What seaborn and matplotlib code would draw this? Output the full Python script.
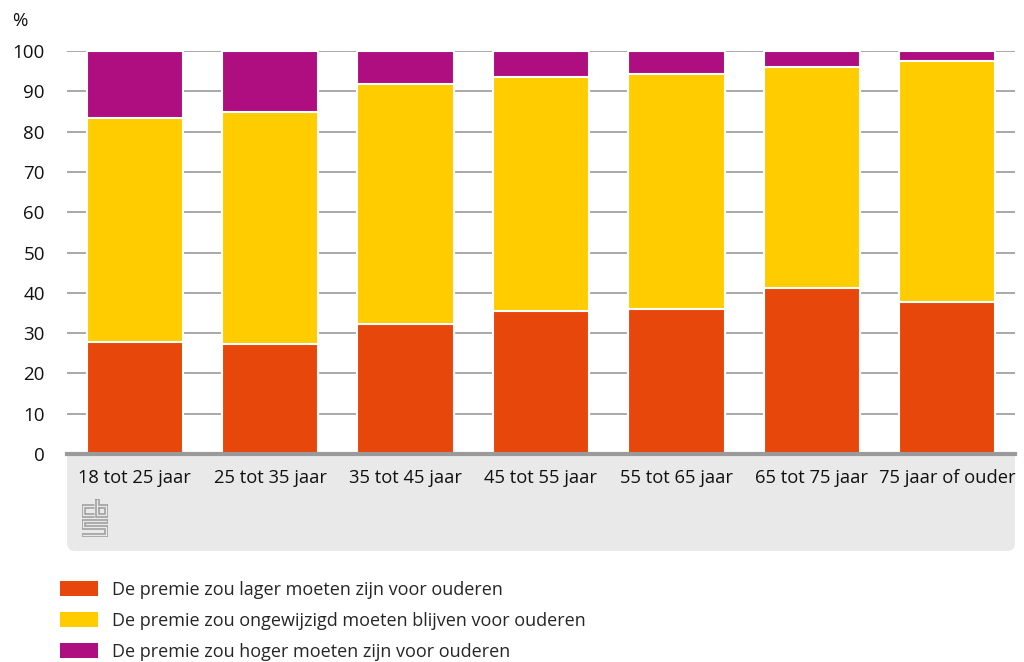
import matplotlib
matplotlib.use("Agg")
import matplotlib.pyplot as plt
from matplotlib.patches import FancyBboxPatch, Patch
import numpy as np
import pandas as pd
import seaborn as sns

# Leeftijdsgroepen en aandelen (%)
categories = ["18 tot 25 jaar", "25 tot 35 jaar", "35 tot 45 jaar", "45 tot 55 jaar",
              "55 tot 65 jaar", "65 tot 75 jaar", "75 jaar of ouder"]
lager = [27.7, 27.3, 32.3, 35.4, 35.9, 41.2, 37.8]
ongewijzigd = [55.6, 57.6, 59.5, 58.1, 58.3, 54.9, 59.7]
hoger = [16.7, 15.1, 8.2, 6.5, 5.8, 3.9, 2.5]
series_labels = ["De premie zou lager moeten zijn voor ouderen",
                 "De premie zou ongewijzigd moeten blijven voor ouderen",
                 "De premie zou hoger moeten zijn voor ouderen"]
yticks = [0, 10, 20, 30, 40, 50, 60, 70, 80, 90, 100]

colors = ["#e8470c", "#ffcc00", "#af0e80"]

sns.set_theme(style="white")
plt.rcParams["font.family"] = ["Open Sans", "DejaVu Sans"]

W, H = 1024, 662
fig = plt.figure(figsize=(W / 100, H / 100), dpi=100)
fig.patch.set_facecolor("white")

def fx(px):
    return px / W

def fy(py):
    return 1 - py / H

ax = fig.add_axes([fx(67), fy(454), fx(1015) - fx(67), fy(51) - fy(454)])
ax.set_facecolor("white")

df = pd.DataFrame({"cat": categories, "lager": lager,
                   "ongewijzigd": ongewijzigd, "hoger": hoger})
df["c1"] = df["lager"]
df["c2"] = df["lager"] + df["ongewijzigd"]
df["c3"] = df["c2"] + df["hoger"]

# stacked bars: draw the cumulative totals from top segment to bottom segment
for col, color in zip(["c3", "c2", "c1"], colors[::-1]):
    sns.barplot(data=df, x="cat", y=col, color=color, width=0.71,
                edgecolor="white", linewidth=1.5, saturation=1, ax=ax, zorder=3)

ax.set_ylim(0, 100)
ax.set_xlim(-0.5, len(categories) - 0.5)
ax.set_yticks(yticks)
ax.set_yticklabels([str(t) for t in yticks])
ax.yaxis.grid(True, color="#a8a8a8", linewidth=1.4, zorder=0)
ax.set_axisbelow(True)
ax.set_xlabel("")
ax.set_ylabel("")
for s in ["top", "right", "left"]:
    ax.spines[s].set_visible(False)
ax.spines["bottom"].set_color("#9a9a9a")
ax.spines["bottom"].set_linewidth(3)
ax.spines["bottom"].set_zorder(5)
ax.tick_params(axis="y", length=0, pad=16, labelsize=13.5, labelcolor="#111111")
ax.tick_params(axis="x", length=0, pad=10.5, labelsize=13.2, labelcolor="#111111")
for lbl in ax.get_yticklabels():
    lbl.set_horizontalalignment("right")

# grey footer band below the axis
band = FancyBboxPatch((fx(67), fy(551)), fx(1015) - fx(67), fy(440) - fy(551),
                      boxstyle="round,pad=0,rounding_size=0.008",
                      transform=fig.transFigure, facecolor="#e9e9e9",
                      edgecolor="none", zorder=-1, mutation_aspect=W / H)
fig.patches.append(band)

# unit label
fig.text(fx(12), fy(21), "%", fontsize=13.5, va="center", ha="left", color="#111111")

# small logo mark in the footer
logo = fig.add_axes([fx(82), fy(537), fx(26), fy(499) - fy(537)])
logo.set_xlim(-0.5, 26.5)
logo.set_ylim(38.5, -0.5)
logo.axis("off")
logo_paths = [
    [(12, 6), (0, 6), (0, 18), (12, 18)],
    [(12, 9), (3, 9), (3, 15), (12, 15)],
    [(14, 0), (14, 18), (26, 18), (26, 6), (17, 6), (17, 0), (14, 0)],
    [(17, 9), (23, 9), (23, 15), (17, 15), (17, 9)],
    [(26, 21), (0, 21), (0, 30), (23, 30), (23, 35), (0, 35), (0, 38), (26, 38),
     (26, 27), (3, 27), (3, 24), (26, 24), (26, 21)],
]
for p in logo_paths:
    xs, ys = zip(*p)
    logo.plot(xs, ys, color="#9c9c9c", linewidth=1.1, solid_joinstyle="miter")

# legend
handles = [Patch(facecolor=c, edgecolor="none") for c in colors]
fig.legend(handles, series_labels, loc="upper left",
           bbox_to_anchor=(fx(60), fy(581)), frameon=False, fontsize=13,
           handlelength=2.1, handleheight=0.9, handletextpad=0.78,
           labelspacing=0.72, borderaxespad=0, borderpad=0)

fig.savefig("out.png", dpi=100)
